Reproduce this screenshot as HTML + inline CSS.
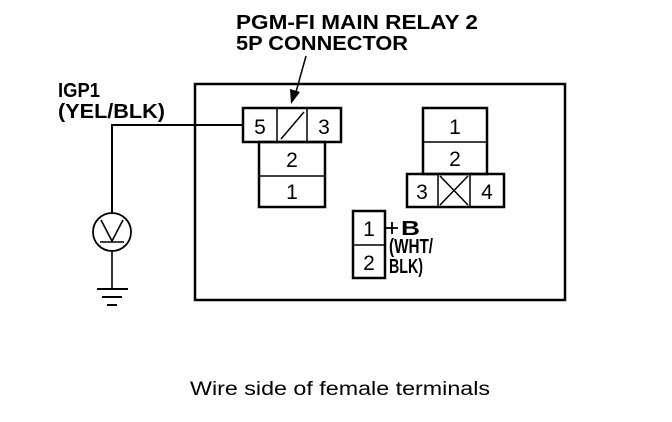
<!DOCTYPE html>
<html><head><meta charset="utf-8"><style>
html,body{margin:0;padding:0;background:#fff;}
svg{display:block;}
text{font-family:"Liberation Sans",sans-serif;fill:#000;}
.b{font-weight:bold;font-size:20px;}
.n{font-size:21px;text-anchor:middle;}
</style></head><body>
<svg width="672" height="422" viewBox="0 0 672 422" xmlns="http://www.w3.org/2000/svg">
<g fill="none" stroke="#000">
<rect x="195" y="84" width="370" height="216" stroke-width="2.5"/>
<g stroke-width="2.5">
<rect x="243" y="108" width="98" height="34"/>
<rect x="259" y="142" width="66" height="65"/>
<rect x="423" y="108" width="64" height="66"/>
<rect x="407" y="174" width="97" height="33"/>
<rect x="353" y="211" width="32" height="67"/>
</g>
<g stroke-width="1.5">
<line x1="277" y1="108" x2="277" y2="142"/>
<line x1="307" y1="108" x2="307" y2="142"/>
<line x1="281" y1="139" x2="304" y2="112"/>
<line x1="259" y1="176" x2="325" y2="176"/>
<line x1="423" y1="142" x2="487" y2="142"/>
<line x1="438" y1="174" x2="438" y2="207"/>
<line x1="470" y1="174" x2="470" y2="207"/>
<line x1="440" y1="176" x2="468" y2="205"/>
<line x1="468" y1="176" x2="440" y2="205"/>
<line x1="353" y1="245" x2="385" y2="245"/>
</g>
<polyline points="243,125 112,125 112,213" stroke-width="2"/>
<circle cx="112" cy="232" r="19" stroke-width="1.8"/>
<polyline points="101,220 112,241 123,220" stroke-width="1.6"/>
<line x1="100" y1="242" x2="124" y2="242" stroke-width="1.6"/>
<line x1="112" y1="251" x2="112" y2="289" stroke-width="1.6"/>
<line x1="97" y1="289" x2="128" y2="289" stroke-width="2"/>
<line x1="102" y1="297" x2="122" y2="297" stroke-width="2"/>
<line x1="107" y1="305" x2="117" y2="305" stroke-width="2"/>
<line x1="306" y1="56" x2="296" y2="92" stroke-width="1.5"/>
<line x1="386" y1="228" x2="398" y2="228" stroke-width="1.8"/>
<line x1="392" y1="222" x2="392" y2="234" stroke-width="1.8"/>
</g>
<polygon points="291,104 290,89 300,92" fill="#000"/>
<text class="b" x="236" y="29" textLength="242" lengthAdjust="spacingAndGlyphs">PGM-FI MAIN RELAY 2</text>
<text class="b" x="236" y="50" textLength="172" lengthAdjust="spacingAndGlyphs">5P CONNECTOR</text>
<text class="b" x="58" y="97" textLength="42" lengthAdjust="spacingAndGlyphs">IGP1</text>
<text class="b" x="58" y="118" textLength="107" lengthAdjust="spacingAndGlyphs">(YEL/BLK)</text>
<text class="b" x="401" y="235" textLength="19" lengthAdjust="spacingAndGlyphs">B</text>
<text class="b" x="389" y="253" textLength="44" lengthAdjust="spacingAndGlyphs">(WHT/</text>
<text class="b" x="389" y="273" textLength="34" lengthAdjust="spacingAndGlyphs">BLK)</text>
<text class="n" x="260" y="134">5</text>
<text class="n" x="324" y="134">3</text>
<text class="n" x="292" y="167">2</text>
<text class="n" x="292" y="199">1</text>
<text class="n" x="455" y="134">1</text>
<text class="n" x="455" y="166">2</text>
<text class="n" x="422" y="199">3</text>
<text class="n" x="487" y="199">4</text>
<text class="n" x="369" y="236">1</text>
<text class="n" x="369" y="270">2</text>
<text x="190" y="395" font-size="19" textLength="300" lengthAdjust="spacingAndGlyphs">Wire side of female terminals</text>
</svg>
</body></html>
